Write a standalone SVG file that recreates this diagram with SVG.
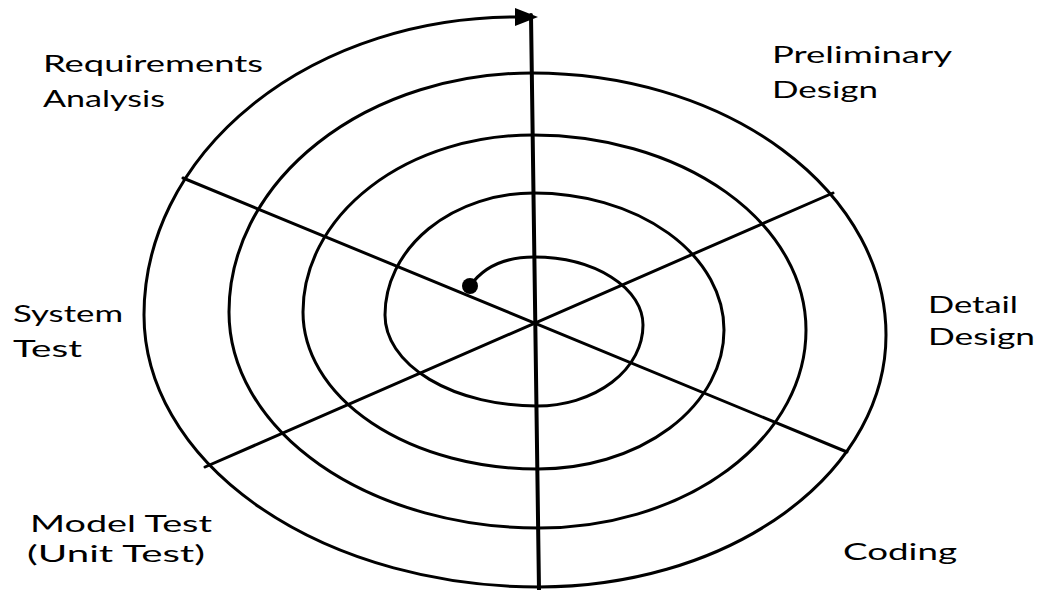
<svg xmlns="http://www.w3.org/2000/svg" width="1041" height="590" viewBox="0 0 1041 590">
<style>
.ln{fill:none;stroke:#000;stroke-width:3;stroke-linecap:round}
.lbl{font-family:Lato,"Liberation Sans",sans-serif;font-size:24px;fill:#000}
</style>
<defs>
<marker id="arr" markerUnits="userSpaceOnUse" markerWidth="26" markerHeight="20" refX="0" refY="9" orient="auto">
<path d="M0,0 L23,9 L0,18 z" fill="#000"/>
</marker>
</defs>
<rect width="1041" height="590" fill="#fff"/>
<g id="connectors">
<path id="spiral" class="ln" marker-end="url(#arr)" d="M470 286 C484 266,505 257,534 257 A109 68 0 0 1 643 325 A106 81 0 0 1 537 406 A152 91 0 0 1 385 315 A149 122 0 0 1 534 193 A190 137 0 0 1 724 330 A186 139 0 0 1 538 469 A235 157 0 0 1 303 312 A230 177 0 0 1 533 135 A273 195 0 0 1 806 330 A267 198 0 0 1 539 528 A310 216 0 0 1 229 312 A303 239 0 0 1 532 73 A354 262 0 0 1 886 335 A347 252 0 0 1 539 587 A395 272 0 0 1 144 315 A372 298 0 0 1 515 17"/>
<line class="ln" x1="531" y1="15" x2="539" y2="590" style="stroke-width:4"/>
<line class="ln" x1="183" y1="178" x2="847" y2="452"/>
<line class="ln" x1="205" y1="467" x2="833" y2="193"/>
<circle cx="470" cy="286" r="8" fill="#000"/>
</g>
<g id="requirements-analysis">
<text class="lbl" x="43" y="72" textLength="220" lengthAdjust="spacingAndGlyphs">Requirements</text>
<text class="lbl" x="43" y="107" textLength="122" lengthAdjust="spacingAndGlyphs">Analysis</text>
</g>
<g id="preliminary-design">
<text class="lbl" x="772" y="63" textLength="180" lengthAdjust="spacingAndGlyphs">Preliminary</text>
<text class="lbl" x="772" y="98" textLength="106" lengthAdjust="spacingAndGlyphs">Design</text>
</g>
<g id="detail-design">
<text class="lbl" x="928" y="313" textLength="90" lengthAdjust="spacingAndGlyphs">Detail</text>
<text class="lbl" x="928" y="345" textLength="107" lengthAdjust="spacingAndGlyphs">Design</text>
</g>
<g id="coding">
<text class="lbl" x="843" y="560" textLength="114" lengthAdjust="spacingAndGlyphs">Coding</text>
</g>
<g id="model-test">
<text class="lbl" x="30" y="532" textLength="182" lengthAdjust="spacingAndGlyphs">Model Test</text>
<text class="lbl" x="27" y="562" textLength="178" lengthAdjust="spacingAndGlyphs">(Unit Test)</text>
</g>
<g id="system-test">
<text class="lbl" x="13" y="322" textLength="110" lengthAdjust="spacingAndGlyphs">System</text>
<text class="lbl" x="13" y="357" textLength="69" lengthAdjust="spacingAndGlyphs">Test</text>
</g>
</svg>
